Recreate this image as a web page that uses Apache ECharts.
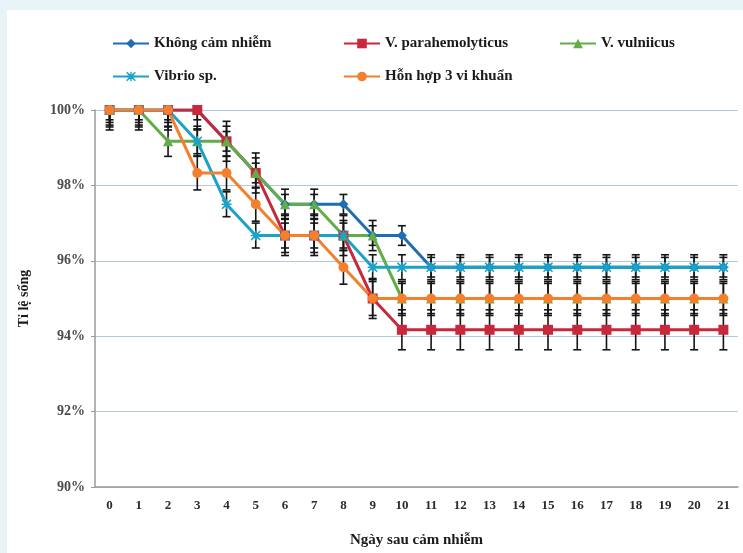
<!DOCTYPE html>
<html>
<head>
<meta charset="utf-8">
<script src="https://cdn.jsdelivr.net/npm/echarts@6/dist/echarts.min.js"></script>
<style>
  html, body { margin: 0; padding: 0; background: #e8f3f7; }
  #panel { position: absolute; left: 7px; top: 10px; width: 736px; height: 543px; background: #fff; }
  #chart { position: absolute; left: 0; top: 0; width: 743px; height: 553px; }
</style>
</head>
<body>
<div id="panel"></div>
<div id="chart"></div>
<script>
const days = ['0', '1', '2', '3', '4', '5', '6', '7', '8', '9', '10', '11', '12', '13', '14', '15', '16', '17', '18', '19', '20', '21']

const khongCamNhiem = [100, 100, 100, 100, 99.17, 98.33, 97.5, 97.5, 97.5, 96.67, 96.67, 95.83, 95.83, 95.83, 95.83, 95.83, 95.83, 95.83, 95.83, 95.83, 95.83, 95.83]
const parahemolyticus = [100, 100, 100, 100, 99.17, 98.33, 96.67, 96.67, 96.67, 95, 94.17, 94.17, 94.17, 94.17, 94.17, 94.17, 94.17, 94.17, 94.17, 94.17, 94.17, 94.17]
const vulniicus = [100, 100, 99.17, 99.17, 99.17, 98.33, 97.5, 97.5, 96.67, 96.67, 95, 95, 95, 95, 95, 95, 95, 95, 95, 95, 95, 95]
const vibrioSp = [100, 100, 100, 99.17, 97.5, 96.67, 96.67, 96.67, 96.67, 95.83, 95.83, 95.83, 95.83, 95.83, 95.83, 95.83, 95.83, 95.83, 95.83, 95.83, 95.83, 95.83]
const honHop = [100, 100, 100, 98.33, 98.33, 97.5, 96.67, 96.67, 95.83, 95, 95, 95, 95, 95, 95, 95, 95, 95, 95, 95, 95, 95]

// error (+/-) per series, same order as seriesDefs
const errors = [0.26, 0.53, 0.4, 0.33, 0.45]

const yTicks = [90, 92, 94, 96, 98, 100]

const asterisk = 'path://M1,0 L5,3.6 L9,0 L10,1 L6.4,5 L10,9 L9,10 L5,6.4 L1,10 L0,9 L3.6,5 L0,1 Z M4.3,0 L5.7,0 L5.7,4.3 L10,4.3 L10,5.7 L5.7,5.7 L5.7,10 L4.3,10 L4.3,5.7 L0,5.7 L0,4.3 L4.3,4.3 Z'

const seriesDefs = [
  { name: 'Không cảm nhiễm', data: khongCamNhiem, color: '#1f6eb4', symbol: 'diamond', size: 10 },
  { name: 'V. parahemolyticus', data: parahemolyticus, color: '#c8283c', symbol: 'rect', size: 10 },
  { name: 'V. vulniicus', data: vulniicus, color: '#62ad48', symbol: 'triangle', size: 10 },
  { name: 'Vibrio sp.', data: vibrioSp, color: '#1aa3c8', symbol: asterisk, size: 10 },
  { name: 'Hỗn hợp 3 vi khuẩn', data: honHop, color: '#f47f2c', symbol: 'circle', size: 10 },
]

const font = 'Liberation Serif'

function errorSeries(values, err) {
  return {
    type: 'custom',
    silent: true,
    z: 1,
    data: values.map((v, i) => [i, v, Math.max(v - err, 90), Math.min(v + err, 100)]),
    encode: { x: 0, y: [1, 2, 3] },
    renderItem(params, api) {
      const i = api.value(0)
      const lo = api.coord([i, api.value(2)])
      const hi = api.coord([i, api.value(3)])
      const style = { stroke: '#151515', lineWidth: 1.6 }
      const children = [
        { type: 'line', shape: { x1: lo[0], y1: lo[1], x2: hi[0], y2: hi[1] }, style },
        { type: 'line', shape: { x1: lo[0] - 4, y1: lo[1], x2: lo[0] + 4, y2: lo[1] }, style },
      ]
      if (api.value(3) < 100) {
        children.push({ type: 'line', shape: { x1: hi[0] - 4, y1: hi[1], x2: hi[0] + 4, y2: hi[1] }, style })
      }
      return { type: 'group', children }
    },
  }
}

const legendPos = [[107, 31], [338, 31], [554, 31], [107, 64], [338, 64]]

const chart = echarts.init(document.getElementById('chart'))
chart.setOption({
  animation: false,
  backgroundColor: 'transparent',
  grid: { left: 95, right: 5, top: 110, bottom: 65 },
  legend: seriesDefs.map((s, i) => ({
    data: [s.name],
    left: legendPos[i][0],
    top: legendPos[i][1],
    itemWidth: 36,
    itemHeight: 12,
    itemGap: 4,
    textStyle: { fontFamily: font, fontSize: 15, fontWeight: 'bold', color: '#1a1a1a' },
  })),
  xAxis: {
    type: 'category',
    data: days,
    boundaryGap: true,
    name: 'Ngày sau cảm nhiễm',
    nameLocation: 'middle',
    nameGap: 46,
    nameTextStyle: { fontFamily: font, fontSize: 15, fontWeight: 'bold', color: '#1a1a1a' },
    axisLine: { lineStyle: { color: '#9a9a9a', width: 1.5 } },
    axisTick: { inside: true, length: 4, lineStyle: { color: '#9a9a9a' } },
    axisLabel: { fontFamily: font, fontSize: 13, fontWeight: 'bold', color: '#2a2a2a', margin: 12 },
  },
  yAxis: {
    type: 'value',
    min: yTicks[0],
    max: yTicks[yTicks.length - 1],
    interval: 2,
    name: 'Tỉ lệ sống',
    nameLocation: 'middle',
    nameGap: 64,
    nameTextStyle: { fontFamily: font, fontSize: 14, fontWeight: 'bold', color: '#1a1a1a' },
    axisLine: { show: true, lineStyle: { color: '#9a9a9a', width: 1.5 } },
    axisTick: { show: true, length: 4, lineStyle: { color: '#9a9a9a' } },
    axisLabel: { fontFamily: font, fontSize: 14, fontWeight: 'bold', color: '#4a4a4a', margin: 10, formatter: (v) => v + '%' },
    splitLine: { lineStyle: { color: '#b4c8e4', width: 1.2 } },
  },
  series: [
    ...seriesDefs.map((s, i) => errorSeries(s.data, errors[i])),
    ...seriesDefs.map((s) => ({
      name: s.name,
      type: 'line',
      data: s.data,
      z: 3,
      symbol: s.symbol,
      symbolSize: s.size,
      showAllSymbol: true,
      color: s.color,
      lineStyle: { color: s.color, width: 3 },
      itemStyle: { color: s.color },
    })),
  ],
})
</script>
</body>
</html>
